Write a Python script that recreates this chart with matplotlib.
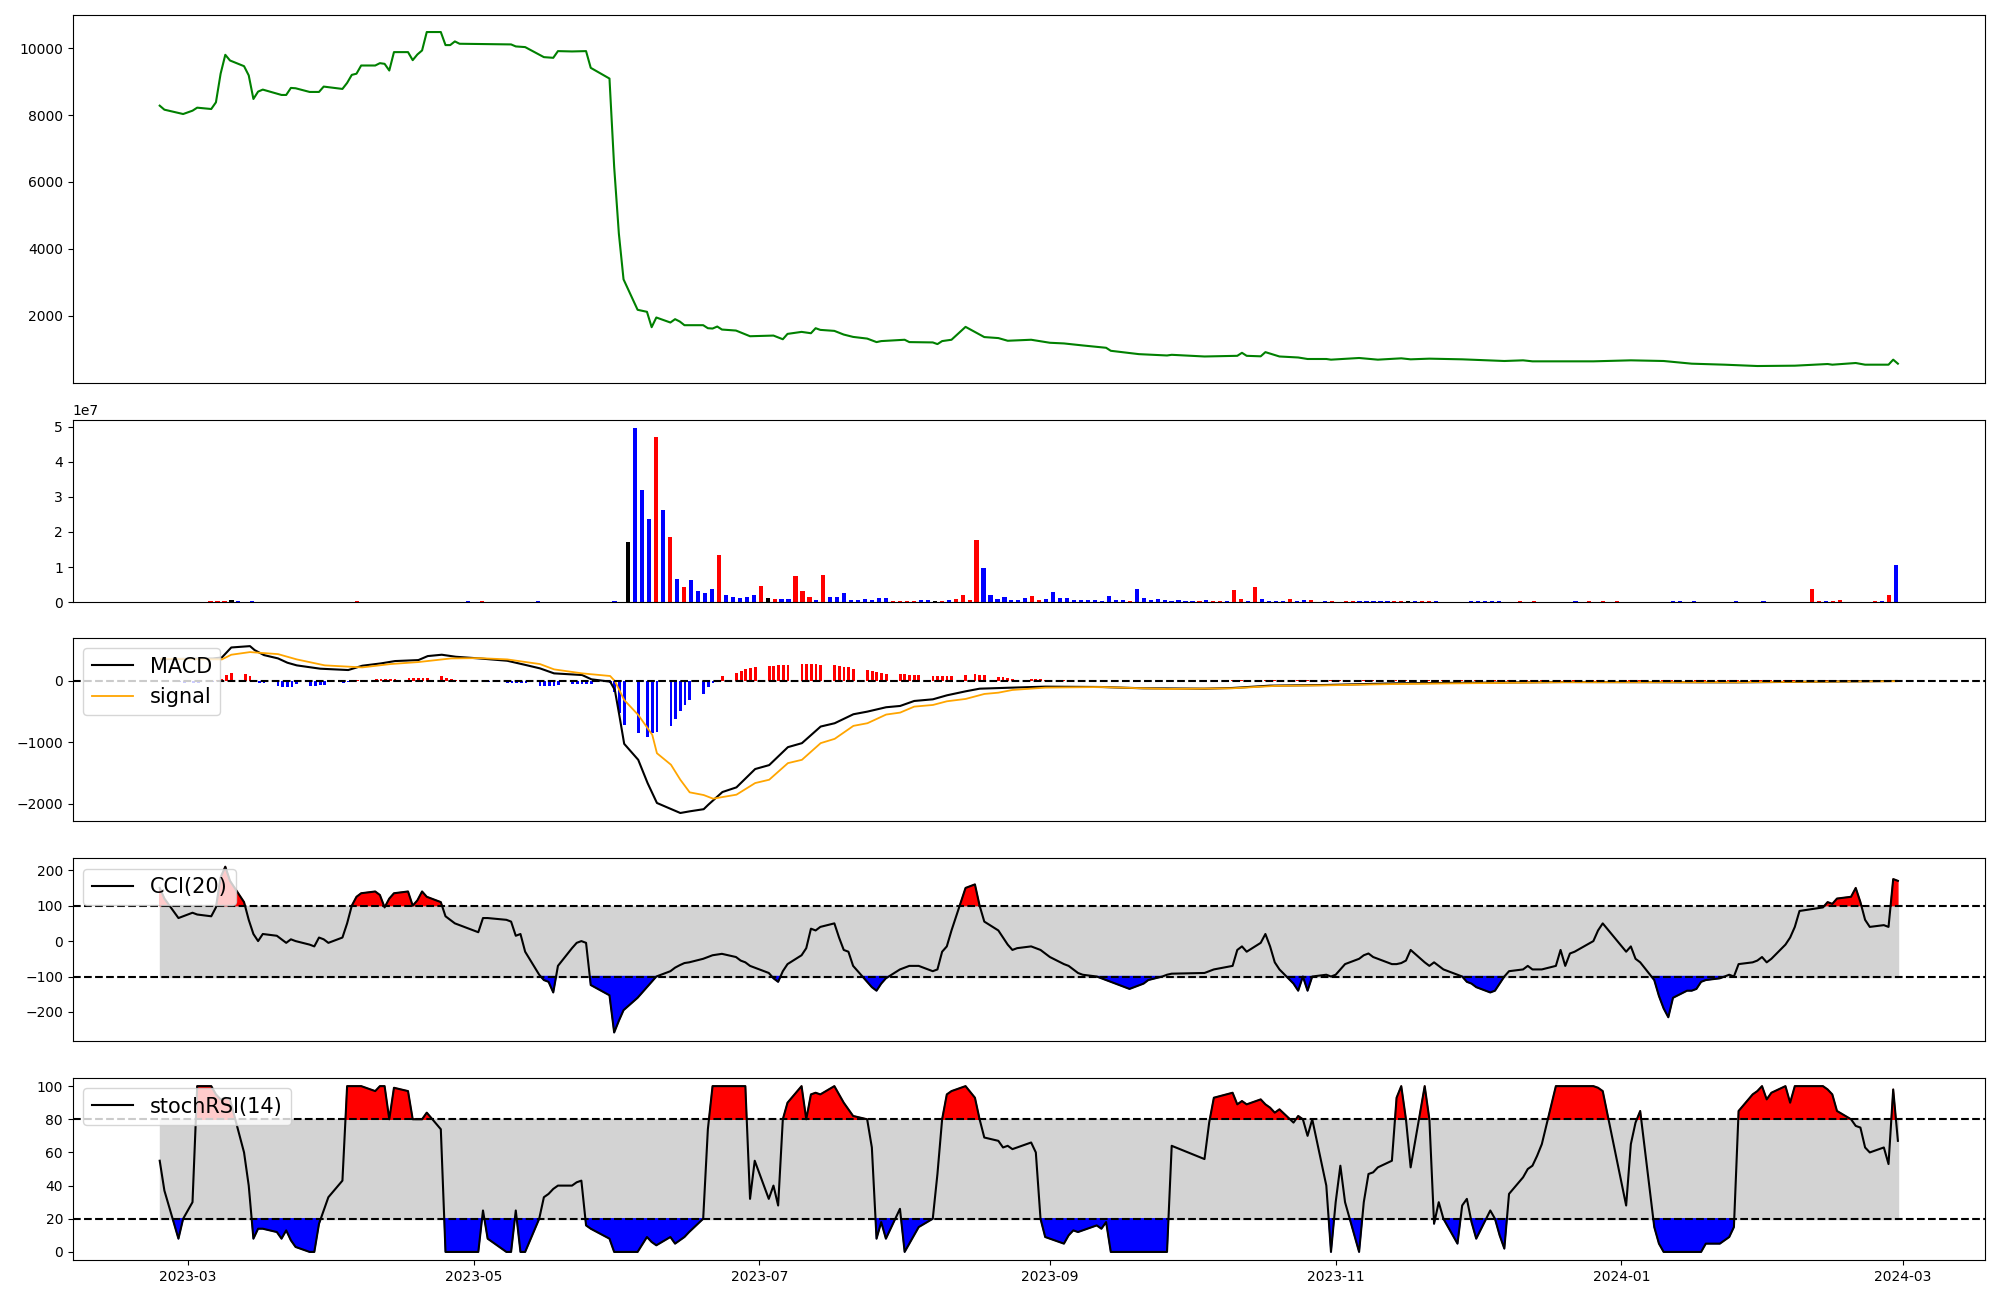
import numpy as np
import pandas as pd
import matplotlib
matplotlib.use('Agg')
import matplotlib.pyplot as plt
from matplotlib.ticker import MultipleLocator

plt.rcParams['font.size'] = 10

# trading days (KRX calendar)
holidays = ['2023-03-01', '2023-05-01', '2023-05-05', '2023-05-29', '2023-06-06',
            '2023-08-15', '2023-09-28', '2023-09-29', '2023-10-02', '2023-10-03',
            '2023-10-09', '2023-12-25', '2023-12-29', '2024-01-01', '2024-02-09',
            '2024-02-12']
days = pd.bdate_range('2023-02-23', '2024-02-29')
days = days[~days.isin(pd.to_datetime(holidays))]

# close price (line vertices)
price_dates = ['2023-02-23', '2023-02-24', '2023-02-28', '2023-03-02', '2023-03-03', '2023-03-06',
               '2023-03-07', '2023-03-08', '2023-03-09', '2023-03-10', '2023-03-13', '2023-03-14',
               '2023-03-15', '2023-03-16', '2023-03-17', '2023-03-21', '2023-03-22', '2023-03-23',
               '2023-03-24', '2023-03-27', '2023-03-29', '2023-03-30', '2023-04-03', '2023-04-04',
               '2023-04-05', '2023-04-06', '2023-04-07', '2023-04-10', '2023-04-11', '2023-04-12',
               '2023-04-13', '2023-04-14', '2023-04-17', '2023-04-18', '2023-04-19', '2023-04-20',
               '2023-04-21', '2023-04-24', '2023-04-25', '2023-04-26', '2023-04-27', '2023-04-28',
               '2023-05-09', '2023-05-10', '2023-05-12', '2023-05-16', '2023-05-18', '2023-05-19',
               '2023-05-22', '2023-05-25', '2023-05-26', '2023-05-30', '2023-05-31', '2023-06-01',
               '2023-06-02', '2023-06-05', '2023-06-07', '2023-06-08', '2023-06-09', '2023-06-12',
               '2023-06-13', '2023-06-14', '2023-06-15', '2023-06-19', '2023-06-20', '2023-06-21',
               '2023-06-22', '2023-06-23', '2023-06-26', '2023-06-29', '2023-07-04', '2023-07-06',
               '2023-07-07', '2023-07-10', '2023-07-12', '2023-07-13', '2023-07-14', '2023-07-17',
               '2023-07-19', '2023-07-21', '2023-07-24', '2023-07-26', '2023-07-27', '2023-08-01',
               '2023-08-02', '2023-08-07', '2023-08-08', '2023-08-09', '2023-08-11', '2023-08-14',
               '2023-08-18', '2023-08-21', '2023-08-23', '2023-08-28', '2023-09-01', '2023-09-04',
               '2023-09-08', '2023-09-13', '2023-09-14', '2023-09-20', '2023-09-26', '2023-09-27',
               '2023-10-04', '2023-10-11', '2023-10-12', '2023-10-13', '2023-10-16', '2023-10-17',
               '2023-10-20', '2023-10-24', '2023-10-26', '2023-10-30', '2023-10-31', '2023-11-06',
               '2023-11-10', '2023-11-15', '2023-11-17', '2023-11-21', '2023-11-28', '2023-12-07',
               '2023-12-11', '2023-12-13', '2023-12-26', '2024-01-03', '2024-01-10', '2024-01-16',
               '2024-01-23', '2024-01-30', '2024-02-07', '2024-02-14', '2024-02-15', '2024-02-20',
               '2024-02-22', '2024-02-27', '2024-02-28', '2024-02-29']
price_vals = [8280, 8160, 8030, 8130, 8220, 8180,
              8380, 9235, 9800, 9630, 9460, 9185,
              8480, 8700, 8760, 8600, 8600, 8810,
              8800, 8690, 8690, 8850, 8780, 8960,
              9200, 9235, 9480, 9480, 9550, 9530,
              9330, 9880, 9880, 9640, 9810, 9930,
              10480, 10480, 10090, 10090, 10200, 10130,
              10110, 10050, 10030, 9730, 9710, 9910,
              9900, 9910, 9410, 9090, 6450, 4460,
              3090, 2180, 2120, 1660, 1950, 1800,
              1900, 1830, 1720, 1720, 1630, 1620,
              1680, 1590, 1560, 1390, 1410, 1300,
              1460, 1520, 1480, 1630, 1580, 1550,
              1440, 1370, 1320, 1215, 1245, 1285,
              1215, 1205, 1155, 1245, 1285, 1670,
              1365, 1335, 1255, 1285, 1195, 1175,
              1115, 1045, 955, 855, 815, 835,
              785, 805, 895, 805, 790, 915,
              785, 755, 710, 710, 690, 740,
              690, 730, 700, 720, 700, 650,
              670, 640, 640, 670, 650, 570,
              540, 500, 510, 560, 540, 590,
              540, 540, 690, 570]

# volume in millions, one per trading day; direction 1 up, -1 down, 0 flat
volume = [0.1, 0.1,
          0.1, 0.1, 0.1, 0.1,
          0.1, 0.3, 0.3, 0.3, 0.6,
          0.3, 0.1, 0.3, 0.1, 0.1,
          0.1, 0.1, 0.1, 0.1, 0.1,
          0.1, 0.1, 0.1, 0.1, 0.1,
          0.1, 0.1, 0.3, 0.1, 0.1,
          0.1, 0.1, 0.1, 0.1, 0.1,
          0.1, 0.1, 0.1, 0.1, 0.1,
          0.1, 0.1, 0.1, 0.3, 0.1,
          0.3, 0.1, 0.1,
          0.1, 0.1, 0.1, 0.1, 0.1,
          0.3, 0.1, 0.1, 0.1, 0.1,
          0.1, 0.1, 0.1, 0.1, 0.1,
          0.1, 0.3, 0.1, 17.0,
          49.6, 32.0, 23.8, 47.1,
          26.4, 18.7, 6.5, 4.3, 6.2,
          3.1, 2.6, 3.7, 13.3, 2.0,
          1.4, 1.1, 1.4, 2.0, 4.5,
          1.1, 0.9, 0.9, 0.9, 7.4,
          3.1, 1.4, 0.6, 7.7, 1.4,
          1.4, 2.6, 0.6, 0.6, 0.9,
          0.6, 1.1, 1.1, 0.3, 0.3,
          0.3, 0.3, 0.6, 0.6, 0.3,
          0.3, 0.6, 0.9, 2.0, 0.6,
          17.6, 9.6, 2.0, 0.9,
          1.4, 0.6, 0.6, 1.1, 1.7,
          0.6, 0.9, 2.8, 1.1, 1.1,
          0.6, 0.6, 0.6, 0.6, 0.3,
          1.7, 0.6, 0.6, 0.3, 3.7,
          1.1, 0.6, 0.9, 0.6, 0.3,
          0.6, 0.3, 0.3,
          0.3, 0.6, 0.3,
          0.3, 0.3, 3.4, 0.9,
          0.3, 4.3, 0.9, 0.3, 0.3,
          0.3, 0.9, 0.3, 0.6, 0.6,
          0.1, 0.3, 0.3, 0.1, 0.3,
          0.3, 0.3, 0.3, 0.3, 0.3,
          0.3, 0.3, 0.3, 0.3, 0.3,
          0.3, 0.3, 0.3, 0.1, 0.1,
          0.1, 0.1, 0.3, 0.3, 0.3,
          0.3, 0.3, 0.1, 0.1, 0.3,
          0.1, 0.3, 0.1, 0.1, 0.1,
          0.1, 0.1, 0.3, 0.1, 0.3,
          0.1, 0.3, 0.1,
          0.3, 0.1, 0.1, 0.1,
          0.1, 0.1, 0.1, 0.1, 0.3,
          0.3, 0.1, 0.3, 0.1, 0.1,
          0.1, 0.1, 0.1, 0.3, 0.1,
          0.1, 0.1, 0.3, 0.1, 0.1,
          0.1, 0.1, 0.1, 0.1,
          3.7, 0.3, 0.3, 0.3,
          0.6, 0.1, 0.1, 0.1, 0.1,
          0.3, 0.3, 2.0, 10.5]
vol_dir = [-1, -1,
           -1, -1, 1, 1,
           -1, 1, 1, 1, 0,
           -1, 1, -1, -1, 1,
           -1, -1, 1, 1, -1,
           -1, -1, 1, 1, 1,
           -1, 1, 1, 1, 1,
           1, 1, -1, -1, 1,
           1, -1, 1, 1, 1,
           1, -1, -1, -1, -1,
           1, -1, -1,
           -1, 1, -1, -1, -1,
           -1, -1, -1, 1, 1,
           -1, 1, 1, 1, -1,
           -1, -1, -1, 0,
           -1, -1, -1, 1,
           -1, 1, -1, 1, -1,
           -1, -1, -1, 1, -1,
           -1, -1, -1, -1, 1,
           0, 1, -1, -1, 1,
           1, 1, -1, 1, -1,
           -1, -1, -1, -1, -1,
           -1, -1, -1, 1, 1,
           1, 1, -1, -1, 0,
           1, -1, 1, 1, 1,
           1, -1, -1, -1,
           -1, -1, -1, -1, 1,
           1, -1, -1, -1, -1,
           -1, -1, -1, -1, -1,
           -1, -1, -1, 1, -1,
           -1, -1, -1, -1, -1,
           -1, -1, -1,
           1, -1, 1,
           1, -1, 1, 1,
           -1, 1, -1, -1, -1,
           -1, 1, -1, -1, 1,
           1, -1, 1, 1, 1,
           1, -1, -1, -1, -1,
           -1, 1, 1, 0, -1,
           1, 1, -1, -1, -1,
           -1, -1, -1, -1, -1,
           -1, -1, -1, -1, 1,
           -1, 1, -1, -1, -1,
           -1, -1, -1, -1, 1,
           -1, 1, -1,
           1, -1, -1, -1,
           -1, -1, -1, -1, -1,
           -1, -1, -1, -1, -1,
           -1, -1, -1, -1, -1,
           -1, -1, -1, -1, -1,
           -1, -1, -1, -1,
           1, 1, -1, 1,
           1, -1, -1, -1, -1,
           1, -1, 1, -1]

# MACD / signal (line vertices) and histogram (one per trading day)
macd_dates = ['2023-02-23', '2023-03-06', '2023-03-08', '2023-03-10', '2023-03-14', '2023-03-15',
              '2023-03-17', '2023-03-20', '2023-03-22', '2023-03-24', '2023-03-29', '2023-04-04',
              '2023-04-07', '2023-04-11', '2023-04-14', '2023-04-19', '2023-04-21', '2023-04-24',
              '2023-04-27', '2023-05-02', '2023-05-08', '2023-05-12', '2023-05-15', '2023-05-18',
              '2023-05-24', '2023-05-26', '2023-05-30', '2023-05-31', '2023-06-01', '2023-06-02',
              '2023-06-05', '2023-06-07', '2023-06-09', '2023-06-12', '2023-06-14', '2023-06-16',
              '2023-06-19', '2023-06-20', '2023-06-23', '2023-06-26', '2023-06-30', '2023-07-03',
              '2023-07-07', '2023-07-10', '2023-07-14', '2023-07-17', '2023-07-21', '2023-07-24',
              '2023-07-28', '2023-07-31', '2023-08-03', '2023-08-07', '2023-08-10', '2023-08-14',
              '2023-08-17', '2023-08-24', '2023-08-31', '2023-09-12', '2023-09-21', '2023-10-04',
              '2023-10-10', '2023-10-18', '2023-10-30', '2023-11-08', '2023-11-14', '2023-12-20',
              '2024-01-26', '2024-02-29']
macd_vals = [350, 360, 378, 540, 562, 497,
             416, 362, 292, 249, 195, 173,
             243, 281, 319, 335, 400, 422,
             389, 362, 324, 254, 200, 119,
             92, 22, -16, -151, -580, -1027,
             -1287, -1665, -1989, -2087, -2152, -2125,
             -2090, -2016, -1811, -1735, -1437, -1373,
             -1081, -1016, -746, -692, -546, -503,
             -432, -411, -330, -303, -238, -173,
             -130, -113, -97, -103, -124, -130,
             -119, -81, -70, -54, -43, -22,
             -27, -5]
signal_dates = ['2023-02-23', '2023-03-08', '2023-03-10', '2023-03-14', '2023-03-20', '2023-03-24',
                '2023-03-30', '2023-04-07', '2023-04-13', '2023-04-19', '2023-04-26', '2023-05-02',
                '2023-05-08', '2023-05-15', '2023-05-18', '2023-05-24', '2023-05-30', '2023-05-31',
                '2023-06-02', '2023-06-05', '2023-06-08', '2023-06-09', '2023-06-12', '2023-06-14',
                '2023-06-16', '2023-06-19', '2023-06-21', '2023-06-26', '2023-06-30', '2023-07-03',
                '2023-07-07', '2023-07-10', '2023-07-14', '2023-07-17', '2023-07-21', '2023-07-24',
                '2023-07-28', '2023-07-31', '2023-08-03', '2023-08-07', '2023-08-10', '2023-08-14',
                '2023-08-18', '2023-08-21', '2023-08-24', '2023-08-31', '2023-09-12', '2023-09-21',
                '2023-09-26', '2023-10-10', '2023-10-19', '2023-10-30', '2023-11-14', '2023-12-20',
                '2024-01-26', '2024-02-29']
signal_vals = [357, 346, 422, 465, 432, 346,
               249, 216, 270, 303, 362, 367,
               346, 270, 184, 119, 76, -5,
               -314, -557, -880, -1180, -1367, -1611,
               -1816, -1860, -1919, -1854, -1665, -1611,
               -1341, -1287, -1016, -946, -735, -692,
               -551, -519, -422, -395, -335, -297,
               -216, -195, -151, -113, -103, -124,
               -135, -124, -86, -76, -54, -25,
               -25, -8]
hist = [0, -10,
        -20, -30, -30, -30,
        -20, 10, 30, 90, 120,
        103, 76, -20, -43, -43,
        -81, -97, -97, -97, -60,
        -81, -81, -70, -70, -20,
        -43, -20, -5, 5, 15,
        32, 32, 32, 32, 32,
        43, 43, 43, 43, 50,
        76, 38, 20, 10, 5,
        -5, -10, -20,
        -43, -43, -43, -43, -43,
        -86, -86, -86, -86, -70,
        -54, -54, -54, -54, -54,
        -40, -180, -520, -720,
        -850, -910, -850, -830,
        -740, -620, -500, -400, -310,
        -210, -110, -40, 0, 76,
        130, 157, 189, 205, 222,
        238, 243, 254, 254, 254,
        270, 270, 270, 265, 254,
        254, 238, 227, 216, 189,
        173, 162, 140, 119, 113,
        108, 103, 92, 92, 92,
        76, 76, 76, 76, 76,
        92, 108, 92, 86,
        65, 54, 38, 27, 11,
        22, 22, 22, 5, 5,
        11, 3, 0, -3, -3,
        -3, -3, -3, -3, -5,
        -5, -5, -5, -5, -5,
        -5, -5, -5,
        -5, -5, -3,
        3, 10, 3, 3,
        3, 10, 5, 3, 10,
        3, 5, 3, 10, 3,
        3, 3, 3, 3, 3,
        3, 8, 3, 3, 3,
        3, 3, 3, 3, 3,
        5, 5, 5, 5, 5,
        5, 5, 5, 5, 5,
        5, 5, 5, 5, 5,
        5, 5, 5, 5, 5,
        5, 5, 5, 5, 5,
        3, 3, 3,
        4, 4, 4, 4,
        5, 5, 5, 5, 5,
        5, 5, 5, 5, 5,
        5, 5, 5, 5, 5,
        5, 5, 5, 5, 5,
        4, 4, 4, 4,
        4, 4, 4, 4,
        5, 5, 5, 5, 5,
        4, 4, 4, 4]

# CCI(20), one per trading day
cci = [150, 120,
       65, 70, 80, 75,
       70, 95, 180, 210, 170,
       110, 60, 20, 0, 20,
       15, 5, -5, 5, 0,
       -10, -15, 10, 5, -5,
       10, 50, 100, 125, 135,
       140, 130, 95, 120, 135,
       140, 100, 115, 140, 125,
       110, 70, 60, 50, 45,
       25, 65, 65,
       60, 55, 15, 20, -30,
       -95, -110, -115, -145, -70,
       -20, -5, 0, -5, -124,
       -153, -258, -225, -195,
       -160, -130, -115, -100,
       -85, -75, -68, -62, -60,
       -50, -45, -40, -38, -36,
       -45, -55, -60, -70, -75,
       -90, -105, -115, -85, -65,
       -40, -20, 35, 30, 40,
       50, 10, -25, -30, -70,
       -115, -130, -140, -120, -105,
       -80, -75, -70, -70, -70,
       -85, -80, -30, -15, 30,
       150, 160, 100, 55,
       30, 10, -10, -25, -20,
       -15, -20, -25, -35, -45,
       -65, -70, -80, -90, -95,
       -100, -105, -110, -115, -120,
       -135, -130, -125, -120, -110,
       -100, -95, -92,
       -90, -85, -80,
       -70, -25, -15, -30,
       -5, 20, -15, -60, -80,
       -120, -140, -100, -140, -100,
       -95, -100, -95, -80, -65,
       -50, -40, -35, -45, -50,
       -65, -65, -62, -55, -25,
       -60, -70, -60, -70, -80,
       -95, -100, -115, -120, -130,
       -145, -140, -120, -100, -85,
       -80, -70, -80, -80, -80,
       -70, -25, -70, -35, -30,
       0, 30, 50,
       -30, -15, -50, -60,
       -110, -155, -190, -215, -160,
       -140, -140, -135, -115, -110,
       -105, -100, -95, -100, -65,
       -60, -55, -45, -60, -50,
       -10, 10, 40, 85,
       95, 110, 105, 120,
       125, 150, 110, 60, 40,
       45, 40, 175, 170]

# stochRSI(14), one per trading day
stoch = [55, 37,
         8, 20, 30, 100,
         100, 95, 92, 93, 92,
         60, 40, 8, 14, 14,
         12, 8, 13, 7, 3,
         0, 0, 17, 25, 33,
         43, 100, 100, 100, 100,
         97, 100, 100, 80, 99,
         97, 80, 80, 80, 84,
         74, 0, 0, 0, 0,
         0, 25, 8,
         0, 0, 25, 0, 0,
         20, 33, 35, 38, 40,
         40, 42, 43, 16, 14,
         8, 0, 0, 0,
         0, 9, 6, 4,
         9, 5, 7, 9, 12,
         20, 74, 100, 100, 100,
         100, 100, 100, 32, 55,
         32, 40, 28, 80, 90,
         100, 80, 95, 96, 95,
         100, 95, 90, 86, 82,
         80, 63, 8, 18, 8,
         26, 0, 5, 10, 15,
         20, 47, 80, 95, 97,
         100, 93, 80, 69,
         67, 63, 64, 62, 63,
         66, 60, 20, 9, 8,
         5, 10, 13, 12, 13,
         16, 14, 18, 0, 0,
         0, 0, 0, 0, 0,
         0, 0, 64,
         56, 78, 93,
         96, 89, 91, 89,
         92, 89, 87, 84, 86,
         78, 82, 80, 70, 80,
         40, 0, 30, 52, 30,
         0, 30, 47, 48, 51,
         55, 93, 100, 80, 51,
         100, 80, 17, 30, 20,
         5, 28, 32, 18, 8,
         25, 20, 10, 2, 35,
         45, 50, 52, 58, 65,
         100, 100, 100, 100, 100,
         100, 99, 97,
         28, 65, 78, 85,
         15, 5, 0, 0, 0,
         0, 0, 0, 0, 5,
         5, 7, 9, 15, 85,
         95, 97, 100, 92, 96,
         100, 90, 100, 100,
         100, 98, 95, 85,
         80, 76, 75, 63, 60,
         63, 53, 98, 67]

cci = np.array(cci, dtype=float)
stoch = np.array(stoch, dtype=float)
hist = np.array(hist, dtype=float)

fig = plt.figure(figsize=(20, 13), dpi=100)
ax1 = fig.add_axes([0.0364, 0.7056, 0.9560, 0.2826])
ax2 = fig.add_axes([0.0364, 0.5369, 0.9560, 0.1403])
ax3 = fig.add_axes([0.0364, 0.3682, 0.9560, 0.1412])
ax4 = fig.add_axes([0.0364, 0.1994, 0.9560, 0.1403])
ax5 = fig.add_axes([0.0364, 0.0306, 0.9560, 0.1403])

# price
ax1.plot(pd.to_datetime(price_dates), price_vals, color='green', linewidth=1.5)
ax1.set_xticks([])

# volume
vcol = {1: 'red', -1: 'blue', 0: 'black'}
ax2.bar(np.arange(len(volume)), np.array(volume) * 1e6, width=0.6,
        color=[vcol[d] for d in vol_dir])
ax2.set_xticks([])

# MACD
ax3.bar(days, hist, width=0.6, color=['red' if h > 0 else 'blue' for h in hist])
ax3.plot(pd.to_datetime(macd_dates), macd_vals, color='black', linewidth=1.5, label='MACD')
ax3.plot(pd.to_datetime(signal_dates), signal_vals, color='orange', linewidth=1.3, label='signal')
ax3.axhline(0, color='black', linestyle='--', linewidth=1.5)
ax3.yaxis.set_major_locator(MultipleLocator(1000))
ax3.legend(loc='upper left', fontsize=15)
ax3.set_xticks([])

# CCI
ax4.fill_between(days, -100, 100, color='lightgray')
ax4.fill_between(days, cci, 100, where=cci >= 100, interpolate=True, color='red')
ax4.fill_between(days, cci, -100, where=cci <= -100, interpolate=True, color='blue')
ax4.plot(days, cci, color='black', linewidth=1.5, label='CCI(20)')
ax4.axhline(100, color='black', linestyle='--', linewidth=1.5)
ax4.axhline(-100, color='black', linestyle='--', linewidth=1.5)
ax4.legend(loc='upper left', fontsize=15)
ax4.set_xticks([])

# stochRSI
ax5.fill_between(days, 20, 80, color='lightgray')
ax5.fill_between(days, stoch, 80, where=stoch >= 80, interpolate=True, color='red')
ax5.fill_between(days, stoch, 20, where=stoch <= 20, interpolate=True, color='blue')
ax5.plot(days, stoch, color='black', linewidth=1.5, label='stochRSI(14)')
ax5.axhline(80, color='black', linestyle='--', linewidth=1.5)
ax5.axhline(20, color='black', linestyle='--', linewidth=1.5)
ax5.legend(loc='upper left', fontsize=15)

fig.savefig('out.png', dpi=100)
